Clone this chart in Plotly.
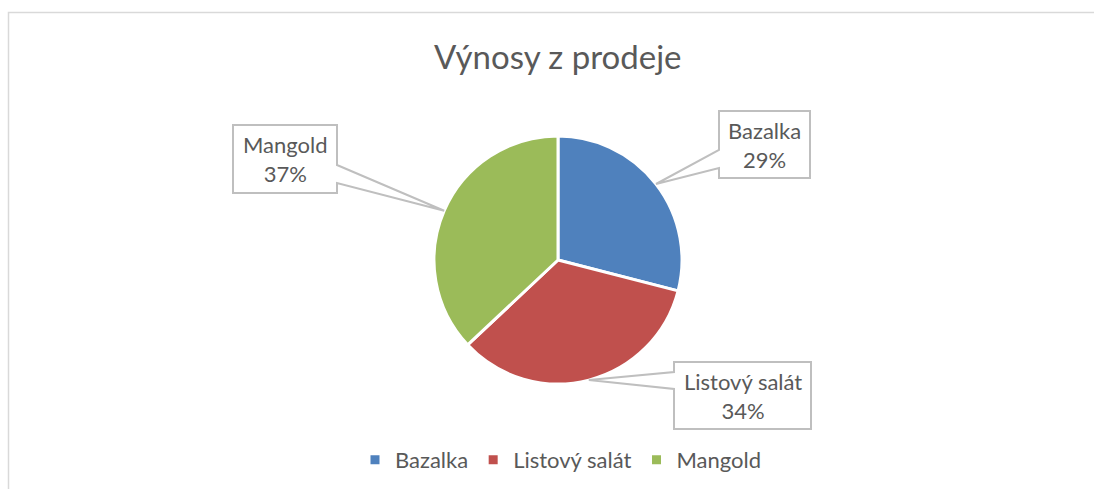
"""Pie chart 'Výnosy z prodeje' with Excel-style callout labels."""
import math

import plotly.graph_objects as go

W, H = 1095, 489

# ── Data ─────────────────────────────────────────────────────────────
CATEGORIES = ["Bazalka", "Listový salát", "Mangold"]
VALUES = [29, 34, 37]
COLORS = ["#4F81BD", "#C0504D", "#9BBB59"]

TITLE = "Výnosy z prodeje"
FONT = "Lato"
TEXT_COLOR = "#595959"
CALLOUT_LINE = "#BFBFBF"

# pie geometry (pixels)
PIE_CX, PIE_CY, PIE_R = 558, 260, 124

# callout boxes: x0, y0, x1, y1, side of the pointer, pointer base y's
CALLOUTS = {
    "Bazalka": (719, 111, 810, 178, "left", 150, 168),
    "Listový salát": (674, 362, 811, 429, "left", 372, 389),
    "Mangold": (233, 125, 337, 193, "right", 165, 183),
}


def px(x):
    return x / W


def py(y):
    return 1 - y / H


fig = go.Figure()

fig.add_trace(go.Pie(
    labels=CATEGORIES, values=VALUES,
    marker=dict(colors=COLORS, line=dict(color="white", width=3)),
    sort=False, direction="clockwise", rotation=0,
    textinfo="none", hoverinfo="label+percent",
    domain=dict(x=[px(PIE_CX - PIE_R), px(PIE_CX + PIE_R)],
                y=[py(PIE_CY + PIE_R), py(PIE_CY - PIE_R)]),
))

# ── Callouts ─────────────────────────────────────────────────────────
total = sum(VALUES)
cum = 0
shapes = []
annotations = []
for name, val in zip(CATEGORIES, VALUES):
    mid = (cum + val / 2) / total * 2 * math.pi
    cum += val
    tx = PIE_CX + PIE_R * math.sin(mid)
    ty = PIE_CY - PIE_R * math.cos(mid)
    x0, y0, x1, y1, side, p1, p2 = CALLOUTS[name]
    if side == "left":
        pts = [(x0, y0), (x1, y0), (x1, y1), (x0, y1), (x0, p2), (tx, ty), (x0, p1)]
    else:
        pts = [(x0, y0), (x1, y0), (x1, p1), (tx, ty), (x1, p2), (x1, y1), (x0, y1)]
    path = "M" + " L".join(f"{px(a):.5f},{py(b):.5f}" for a, b in pts) + " Z"
    shapes.append(dict(type="path", path=path, xref="paper", yref="paper",
                       fillcolor="white", line=dict(color=CALLOUT_LINE, width=2),
                       layer="above"))
    pct = round(val / total * 100)
    annotations.append(dict(
        x=px((x0 + x1) / 2), y=py((y0 + y1) / 2), xref="paper", yref="paper",
        xanchor="center", yanchor="middle", showarrow=False, align="center",
        text=f"{name}<br>{pct}%",
        font=dict(family=FONT, size=22, color=TEXT_COLOR),
    ))

# chart area border (left + top visible)
shapes.append(dict(
    type="path", xref="paper", yref="paper",
    path=f"M{px(8.5)},{py(489)} L{px(8.5)},{py(12.5)} L{px(1094)},{py(12.5)}",
    line=dict(color="#D9D9D9", width=1.5), layer="below",
))

annotations.append(dict(
    x=px(558), y=py(56), xref="paper", yref="paper",
    xanchor="center", yanchor="middle", showarrow=False,
    text=TITLE, font=dict(family=FONT, size=33, color=TEXT_COLOR),
))

fig.update_layout(
    width=W, height=H,
    margin=dict(l=0, r=0, t=0, b=0),
    paper_bgcolor="white", plot_bgcolor="white",
    font=dict(family=FONT, color=TEXT_COLOR),
    showlegend=True,
    legend=dict(orientation="h", x=px(561), xanchor="center",
                y=py(460), yanchor="middle",
                font=dict(family=FONT, size=22, color=TEXT_COLOR),
                itemclick=False),
    shapes=shapes,
    annotations=annotations,
)

fig.write_html("out.html", config={"displayModeBar": False},
               post_script="document.body.style.margin='0';")
